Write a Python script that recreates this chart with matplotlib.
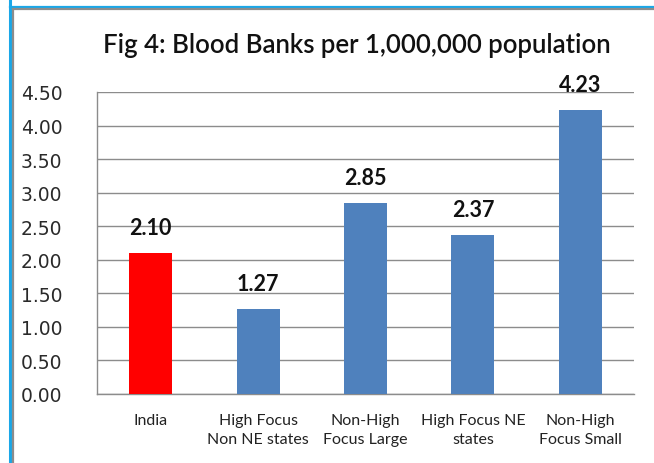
import matplotlib
matplotlib.use("Agg")
import matplotlib.pyplot as plt
from matplotlib.lines import Line2D

categories = ["India", "High Focus\nNon NE states", "Non-High\nFocus Large", "High Focus NE\nstates", "Non-High\nFocus Small"]
values = [2.10, 1.27, 2.85, 2.37, 4.23]
colors = ["#FF0000", "#4F81BD", "#4F81BD", "#4F81BD", "#4F81BD"]
yticks = [0.0, 0.5, 1.0, 1.5, 2.0, 2.5, 3.0, 3.5, 4.0, 4.5]
title = "Fig 4: Blood Banks per 1,000,000 population"

W, H = 654, 464
fig = plt.figure(figsize=(W/100, H/100), dpi=100)
fig.patch.set_facecolor("white")

# axes box in pixels
left, right, top, bottom = 97, 634, 93, 395
ax = fig.add_axes([left/W, 1 - bottom/H, (right-left)/W, (bottom-top)/H])
x = list(range(len(categories)))
ax.bar(x, values, width=0.4, color=colors, zorder=3)
ax.set_xlim(-0.5, len(categories) - 0.5)
ax.set_ylim(0, 4.5)
ax.set_yticks(yticks)
ax.set_yticklabels([f"{v:.2f}" for v in yticks], fontsize=13.5, family="DejaVu Sans", color="#2A2A2A")
ax.set_xticks(x)
ax.set_xticklabels(categories, fontsize=11.5, family="Lato", color="#222222", linespacing=1.45)
ax.tick_params(axis="both", length=0)
ax.tick_params(axis="y", pad=25)
ax.tick_params(axis="x", pad=14)
ax.yaxis.grid(True, color="#8C8C8C", linewidth=1, zorder=0)
for s in ["top", "right"]:
    ax.spines[s].set_visible(False)
for s in ["left", "bottom"]:
    ax.spines[s].set_color("#8C8C8C")
    ax.spines[s].set_linewidth(1)

for xi, v in zip(x, values):
    ax.annotate(f"{v:.2f}", (xi, v), xytext=(0, 13.5), textcoords="offset points",
                ha="center", va="baseline", fontsize=15.5, fontweight="bold", family="Lato", color="#111111")

fig.text(357/W, 1 - 45/H, title, ha="center", va="center", fontsize=18.5, fontweight="semibold",
         family="Lato", color="#111111")

# frame borders (top and left)
def px_line(x0, y0, x1, y1, color, lw):
    fig.add_artist(Line2D([x0/W, x1/W], [1 - y0/H, 1 - y1/H], color=color, linewidth=lw, transform=fig.transFigure))
px_line(10, 7.5, W, 7.5, "#1AA7E8", 1.6)
px_line(10, 0, 10, H, "#1AA7E8", 2.2)
px_line(13, 10, W, 10, "#8C8C8C", 1.6)
px_line(12.8, 10, 12.8, H, "#8C8C8C", 1.6)

fig.savefig("out.png", dpi=100)
